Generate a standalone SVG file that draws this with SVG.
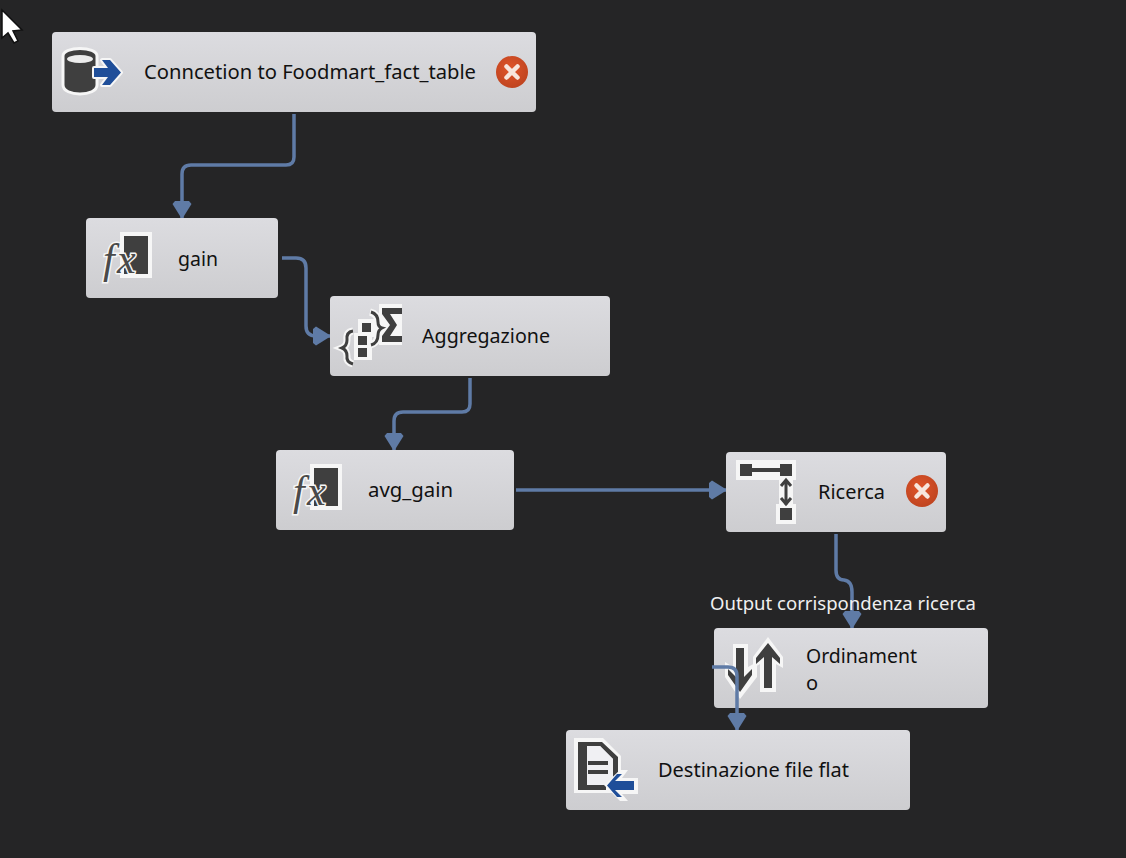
<svg xmlns="http://www.w3.org/2000/svg" xmlns:xlink="http://www.w3.org/1999/xlink" width="1126" height="858" viewBox="0 0 1126 858">
<style>
.box{fill:url(#g)}
.t{font-family:"Noto Sans","Open Sans","Liberation Sans",sans-serif;font-size:20px;fill:#111}
.c{fill:none;stroke:#5f7ba6;stroke-width:3.500}
.d{fill:#3f3f3f}
.w{fill:#f6f6f6}
.s{fill:none;stroke:#3f3f3f}
.fx{font-family:"Liberation Serif",serif;font-style:italic;font-size:42px;fill:#4a4a4a;stroke:#f6f6f6;stroke-width:3;paint-order:stroke}
</style>
<defs>
<linearGradient id="g" x1="0" y1="0" x2="0" y2="1"><stop offset="0" stop-color="#dcdce0"/><stop offset="1" stop-color="#cdcdd0"/></linearGradient>
<marker id="a" markerUnits="userSpaceOnUse" markerWidth="20" markerHeight="20" refX="17" refY="10" orient="auto"><path d="M0 3L3 0.500L15 8L17 10L15 12L3 19.500L0 17Z" fill="#5f7ba6"/></marker>
<radialGradient id="e" cx="0.45" cy="0.4" r="0.65"><stop offset="0" stop-color="#e0552a"/><stop offset="1" stop-color="#bd431f"/></radialGradient>
<g id="err"><circle r="16" fill="url(#e)"/><path d="M-5.500-5.500L5.500 5.500M5.500-5.500L-5.500 5.500" stroke="#f7e6dd" stroke-width="4.500" stroke-linecap="round"/></g>
<g id="fxi"><rect x="25" y="0" width="32" height="46" class="w"/><rect x="29" y="4" width="24" height="38" class="d"/><text class="fx" x="8 22" y="41">fx</text></g>
</defs>
<rect width="1126" height="858" fill="#252526"/>
<path id="cursor" d="M2 10V38L8 33L14 43L18 41L13 31L22 30Z" fill="#fff" stroke="#111" stroke-width="1.500"/>
<g id="connectors">
<path class="c" marker-end="url(#a)" d="M294 114V157Q294 165 286 165H191Q182 165 182 174V218"/>
<path class="c" marker-end="url(#a)" d="M282 258H296Q306 258 306 268V326Q306 336 316 336H330"/>
<path class="c" marker-end="url(#a)" d="M470 378V404Q470 412 462 412H403Q394 412 394 421V450"/>
<path class="c" marker-end="url(#a)" d="M516 490H726"/>
<path class="c" marker-end="url(#a)" d="M836 534V570Q836 580 844 580Q852 581 852 592V628"/>
</g>
<g id="conn"><rect class="box" x="52" y="32" width="484" height="80" rx="4"/>
<path class="d" stroke="#f6f6f6" stroke-width="3" d="M63 56C63 46 97 46 97 56V85C97 97 63 97 63 85Z"/><ellipse cx="80" cy="59" rx="13" ry="4" fill="#ececec"/>
<path d="M102 60H110L121 72.500L110 85H102L108 77H94V68H108Z" fill="#1f4e99" stroke="#f6f6f6" stroke-width="4" stroke-linejoin="round" paint-order="stroke"/>
<text class="t" x="144" y="79" textLength="332" lengthAdjust="spacingAndGlyphs">Conncetion to Foodmart_fact_table</text>
<use xlink:href="#err" href="#err" x="512" y="72"/></g>
<g id="gain"><rect class="box" x="86" y="218" width="192" height="80" rx="4"/>
<use xlink:href="#fxi" href="#fxi" x="95" y="232"/>
<text class="t" x="178" y="266" textLength="40" lengthAdjust="spacingAndGlyphs">gain</text></g>
<g id="aggregazione"><rect class="box" x="330" y="296" width="280" height="80" rx="4"/>
<rect x="379" y="304" width="23" height="41" class="w"/>
<rect x="358" y="319" width="24" height="18" class="w"/><rect x="354" y="333" width="18" height="27" class="w"/>
<path d="M370 312Q378 314 378 322Q378 327 382 328Q378 330 378 335Q378 343 370 345" fill="none" stroke="#f6f6f6" stroke-width="7"/>
<path d="M353 331Q346 332 347 340Q347 346 342 348Q347 350 347 356Q346 362 353 364" fill="none" stroke="#f6f6f6" stroke-width="7"/>
<path d="M353 331Q346 332 347 340Q347 346 342 348Q347 350 347 356Q346 362 353 364" class="s" stroke-width="3"/>
<path d="M371 312Q378 314 378 322Q378 327 382 328Q378 330 378 335Q378 343 371 345" class="s" stroke-width="3"/>
<rect x="362" y="323" width="9" height="9" class="d"/><rect x="358" y="336" width="9" height="9" class="d"/><rect x="358" y="348" width="9" height="9" class="d"/>
<path d="M382 308H402V314H390L397 325L390 336H402V342H382V336L390 325L382 314Z" class="d"/>
<text class="t" x="422" y="343" textLength="128" lengthAdjust="spacingAndGlyphs">Aggregazione</text></g>
<g id="avg_gain"><rect class="box" x="276" y="450" width="238" height="80" rx="4"/>
<use xlink:href="#fxi" href="#fxi" x="285" y="464"/>
<text class="t" x="368" y="497" textLength="85" lengthAdjust="spacingAndGlyphs">avg_gain</text></g>
<g id="ricerca"><rect class="box" x="726" y="452" width="220" height="80" rx="4"/>
<path d="M736 460H796V480H736Z" class="w"/><rect x="779" y="480" width="14" height="30" class="w"/><rect x="776" y="504" width="20" height="20" class="w"/>
<rect x="740" y="464" width="12" height="12" class="d"/><rect x="780" y="464" width="12" height="12" class="d"/><rect x="752" y="468" width="28" height="4" class="d"/>
<path d="M786 480V505M781 486L786 480L791 486M781 498L786 504L791 498" class="s" stroke-width="3"/>
<rect x="780" y="508" width="12" height="12" class="d"/>
<text class="t" x="818" y="499" textLength="67" lengthAdjust="spacingAndGlyphs">Ricerca</text>
<use xlink:href="#err" href="#err" x="922" y="491"/></g>
<g id="ordinamento"><rect class="box" x="714" y="628" width="274" height="80" rx="4"/>
<path d="M733 644H748V667L757 662V677L740 699L725 677V662L733 667Z" class="w"/>
<path d="M768 637L783 657V668L776 664V692H760V664L753 668V657Z" class="w"/>
<path d="M736 648H744V677L752 669V675L740 692L728 675V669L736 677Z" class="d"/>
<path d="M768 643L780 658V664L772 657V688H764V657L756 664V658Z" class="d"/>
<text class="t" x="806" y="663" textLength="111" lengthAdjust="spacingAndGlyphs">Ordinament</text>
<text class="t" x="806" y="690">o</text></g>
<g id="destinazione"><rect class="box" x="566" y="730" width="344" height="80" rx="4"/>
<path d="M574 738H603L621 756V793H574Z" class="w"/>
<path d="M578 742H602L618 757V786H613V759L600 746H587V785H606V790H578Z" class="d"/>
<path d="M587 746H600L613 759V785H587Z" fill="#f0f0f3"/>
<rect x="588" y="761" width="20" height="4" class="d"/><rect x="588" y="770" width="20" height="4" class="d"/>
<path d="M620 770L604 785L620 801H628L622 794H638V778H622L628 770Z" fill="#f6f6f6"/>
<path d="M617 774H622L615 781H634V790H615L622 797H617L607 785.500Z" fill="#1f4e99"/>
<text class="t" x="658" y="777" textLength="191" lengthAdjust="spacingAndGlyphs">Destinazione file flat</text></g>
<g id="connectors-over">
<path class="c" marker-end="url(#a)" d="M712 667H728Q737 667 737 676V730"/>
</g>
<text id="label" x="710" y="610" font-family="'Noto Sans','Open Sans','Liberation Sans',sans-serif" font-size="18" fill="#f0f0f0" textLength="266" lengthAdjust="spacingAndGlyphs">Output corrispondenza ricerca</text>
</svg>
